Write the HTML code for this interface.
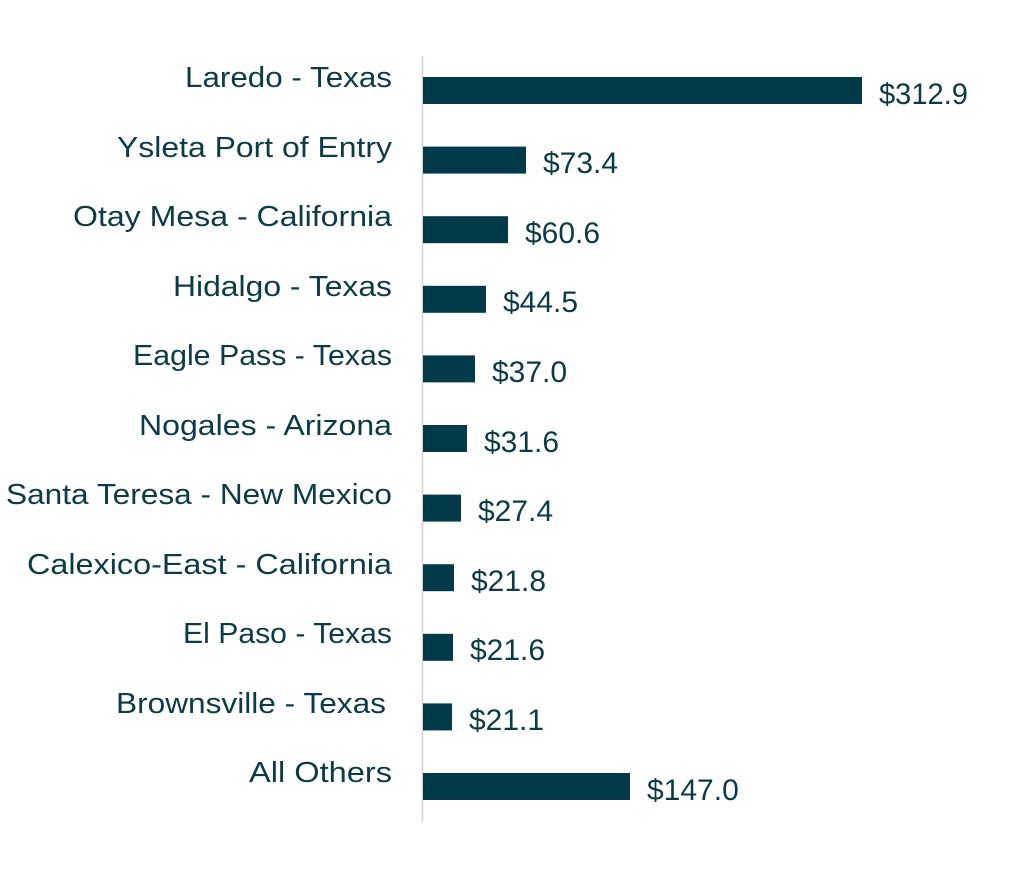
<!DOCTYPE html>
<html><head><meta charset="utf-8"><style>
html,body{margin:0;padding:0;background:#fff;}
svg{display:block;}
text{font-family:"Liberation Sans",sans-serif;fill:#0b3a48;}
</style></head><body>
<svg width="1024" height="878" viewBox="0 0 1024 878">
<line x1="422.5" y1="56" x2="422.5" y2="822" stroke="#d9d2cc" stroke-width="1.5"/>
<g fill="#033a4a">
<rect x="423" y="77" width="439" height="27"/>
<rect x="423" y="146.6" width="103" height="27"/>
<rect x="423" y="216.2" width="85" height="27"/>
<rect x="423" y="285.8" width="63" height="27"/>
<rect x="423" y="355.4" width="52" height="27"/>
<rect x="423" y="425" width="44" height="27"/>
<rect x="423" y="494.6" width="38" height="27"/>
<rect x="423" y="564.2" width="31" height="27"/>
<rect x="423" y="633.8" width="30" height="27"/>
<rect x="423" y="703.4" width="29" height="27"/>
<rect x="423" y="773" width="207" height="27"/>
</g>
<g font-size="29" lengthAdjust="spacingAndGlyphs">
<text x="185" y="87" textLength="207" lengthAdjust="spacingAndGlyphs">Laredo - Texas</text>
<text x="117" y="157" textLength="275" lengthAdjust="spacingAndGlyphs">Ysleta Port of Entry</text>
<text x="73" y="226" textLength="319" lengthAdjust="spacingAndGlyphs">Otay Mesa - California</text>
<text x="173" y="296" textLength="219" lengthAdjust="spacingAndGlyphs">Hidalgo - Texas</text>
<text x="133" y="365" textLength="259" lengthAdjust="spacingAndGlyphs">Eagle Pass - Texas</text>
<text x="139" y="435" textLength="253" lengthAdjust="spacingAndGlyphs">Nogales - Arizona</text>
<text x="6" y="504" textLength="386" lengthAdjust="spacingAndGlyphs">Santa Teresa - New Mexico</text>
<text x="27" y="574" textLength="365" lengthAdjust="spacingAndGlyphs">Calexico-East - California</text>
<text x="183" y="643" textLength="209" lengthAdjust="spacingAndGlyphs">El Paso - Texas</text>
<text x="116" y="713" textLength="270" lengthAdjust="spacingAndGlyphs">Brownsville - Texas</text>
<text x="249" y="782" textLength="143" lengthAdjust="spacingAndGlyphs">All Others</text>
</g>
<g font-size="30">
<text x="879" y="104" textLength="89" lengthAdjust="spacingAndGlyphs">$312.9</text>
<text x="543" y="173">$73.4</text>
<text x="525" y="243">$60.6</text>
<text x="503" y="312">$44.5</text>
<text x="492" y="382">$37.0</text>
<text x="484" y="452">$31.6</text>
<text x="478" y="521">$27.4</text>
<text x="471" y="591">$21.8</text>
<text x="470" y="660">$21.6</text>
<text x="469" y="730">$21.1</text>
<text x="647" y="800">$147.0</text>
</g>
</svg>
</body></html>
